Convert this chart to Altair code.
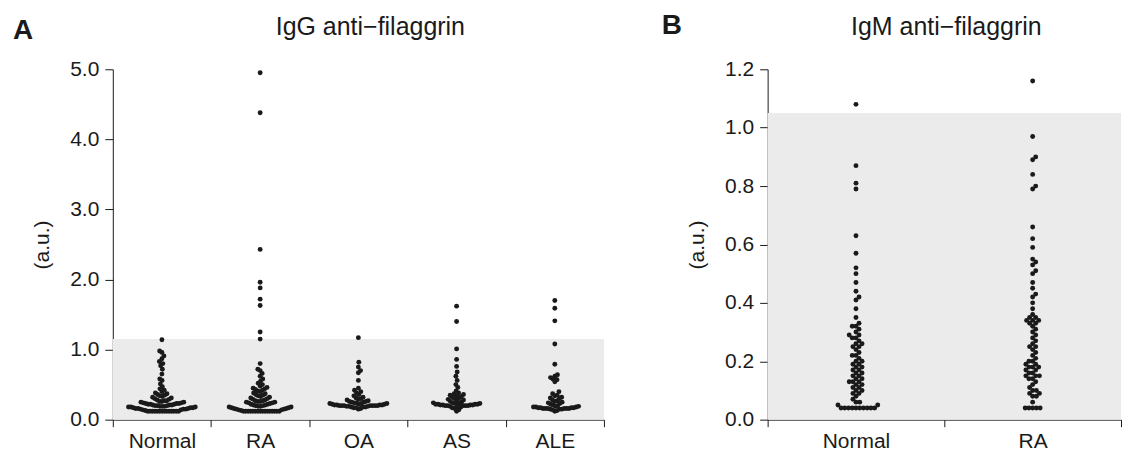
import math
import pandas as pd
import altair as alt

FONT = "Liberation Sans, Arial, sans-serif"
INK = "#1a1a1a"

# ---------------- data ----------------
GROUPS_A = ["Normal", "RA", "OA", "AS", "ALE"]
GROUPS_B = ["Normal", "RA"]
TITLE_A = "IgG anti\u2212filaggrin"
TITLE_B = "IgM anti\u2212filaggrin"
TICKS_A = [0, 1, 2, 3, 4, 5]
TICKS_B = [0, 0.2, 0.4, 0.6, 0.8, 1.0, 1.2]
CUTOFF_A = 1.15
CUTOFF_B = 1.05

NORMAL_A = [0.12, 0.12, 0.12, 0.12, 0.12, 0.12, 0.12, 0.12, 0.12, 0.12, 0.12, 0.12, 0.12, 0.12,
            0.13, 0.14, 0.14, 0.15, 0.15, 0.15, 0.16, 0.16, 0.16, 0.17, 0.17, 0.17, 0.18, 0.18,
            0.18, 0.19, 0.19, 0.19, 0.20, 0.20, 0.20, 0.21, 0.21, 0.21, 0.22, 0.22, 0.22, 0.23,
            0.23, 0.23, 0.24, 0.24, 0.25, 0.25, 0.26, 0.26, 0.27, 0.27, 0.28, 0.29, 0.30, 0.31,
            0.32, 0.33, 0.34, 0.35, 0.36, 0.37, 0.38, 0.40, 0.42, 0.44, 0.47, 0.51, 0.56, 0.58,
            0.65, 0.72, 0.77, 0.80, 0.83, 0.87, 0.91, 0.96, 0.98, 1.14]
RA_A = [0.12, 0.12, 0.12, 0.12, 0.12, 0.12, 0.12, 0.12, 0.12, 0.12, 0.12, 0.12, 0.12, 0.12,
        0.12, 0.12, 0.13, 0.14, 0.14, 0.15, 0.15, 0.16, 0.16, 0.17, 0.17, 0.18, 0.18, 0.19,
        0.19, 0.20, 0.20, 0.21, 0.21, 0.22, 0.22, 0.23, 0.24, 0.24, 0.25, 0.25, 0.26, 0.26,
        0.27, 0.27, 0.28, 0.29, 0.30, 0.31, 0.32, 0.33, 0.34, 0.35, 0.36, 0.37, 0.38, 0.40,
        0.41, 0.42, 0.43, 0.44, 0.45, 0.46, 0.48, 0.50, 0.52, 0.55, 0.58, 0.62, 0.66, 0.70,
        0.72, 0.80, 1.15, 1.25, 1.63, 1.72, 1.88, 1.96, 2.43, 4.38, 4.95]
OA_A = [0.15, 0.16, 0.17, 0.17, 0.18, 0.18, 0.18, 0.19, 0.19, 0.19, 0.20, 0.20, 0.20, 0.20,
        0.20, 0.20, 0.20, 0.21, 0.21, 0.21, 0.21, 0.22, 0.22, 0.22, 0.23, 0.23, 0.23, 0.24,
        0.24, 0.25, 0.25, 0.26, 0.26, 0.27, 0.28, 0.29, 0.30, 0.31, 0.32, 0.34, 0.36, 0.38,
        0.40, 0.42, 0.45, 0.56, 0.67, 0.70, 0.75, 0.82, 1.17]
AS_A = [0.12, 0.14, 0.16, 0.17, 0.18, 0.19, 0.19, 0.20, 0.20, 0.20, 0.20, 0.20, 0.21, 0.21,
        0.21, 0.21, 0.22, 0.22, 0.22, 0.22, 0.23, 0.23, 0.23, 0.24, 0.24, 0.25, 0.26, 0.27,
        0.28, 0.29, 0.30, 0.31, 0.32, 0.33, 0.34, 0.35, 0.36, 0.37, 0.38, 0.41, 0.46, 0.50,
        0.56, 0.62, 0.68, 0.76, 0.86, 1.01, 1.40, 1.62]
ALE_A = [0.12, 0.13, 0.14, 0.15, 0.15, 0.15, 0.16, 0.16, 0.16, 0.16, 0.16, 0.16, 0.17, 0.17,
         0.17, 0.17, 0.18, 0.18, 0.18, 0.19, 0.19, 0.20, 0.21, 0.22, 0.23, 0.24, 0.25, 0.26,
         0.27, 0.28, 0.30, 0.31, 0.32, 0.34, 0.35, 0.37, 0.40, 0.54, 0.57, 0.58, 0.60, 0.62,
         0.64, 0.79, 1.08, 1.41, 1.59, 1.70]

NORMAL_B = [0.04, 0.04, 0.04, 0.04, 0.04, 0.04, 0.04, 0.04, 0.04, 0.04, 0.05, 0.05, 0.06,
            0.06, 0.07, 0.08, 0.09, 0.09, 0.10, 0.10, 0.11, 0.11, 0.12, 0.12, 0.13, 0.13,
            0.13, 0.14, 0.14, 0.15, 0.15, 0.16, 0.16, 0.17, 0.17, 0.18, 0.18, 0.19, 0.19,
            0.20, 0.20, 0.21, 0.22, 0.22, 0.23, 0.24, 0.25, 0.25, 0.26, 0.26, 0.27, 0.28,
            0.28, 0.29, 0.29, 0.30, 0.31, 0.32, 0.32, 0.33, 0.35, 0.38, 0.41, 0.42, 0.44,
            0.47, 0.50, 0.52, 0.57, 0.63, 0.79, 0.81, 0.87, 1.08]
RA_B = [0.04, 0.04, 0.04, 0.04, 0.04, 0.06, 0.08, 0.08, 0.09, 0.09, 0.10, 0.10, 0.11, 0.12,
        0.13, 0.14, 0.14, 0.15, 0.15, 0.15, 0.16, 0.16, 0.17, 0.17, 0.18, 0.18, 0.18, 0.19,
        0.19, 0.20, 0.20, 0.21, 0.22, 0.23, 0.24, 0.25, 0.25, 0.26, 0.27, 0.28, 0.29, 0.30,
        0.31, 0.32, 0.33, 0.33, 0.34, 0.34, 0.34, 0.35, 0.35, 0.36, 0.38, 0.40, 0.42, 0.43,
        0.45, 0.47, 0.50, 0.51, 0.53, 0.54, 0.55, 0.59, 0.62, 0.66, 0.79, 0.80, 0.84, 0.89,
        0.90, 0.97, 1.16]

# ---------------- layout ----------------
PLOT_H = 351
A_W = 492
B_W = 354
DOT_D = 5.0
SQUEEZE_A = 0.48   # dots overlap sideways in the original dot plot
SQUEEZE_B = 0.75
YMAX_A = 5.0
YMAX_B = 1.2


def beeswarm(vals, px_per_unit, d):
    """Greedy beeswarm: horizontal pixel offsets so that dots do not overlap."""
    order = sorted(range(len(vals)), key=lambda i: vals[i])
    placed = []
    offs = [0.0] * len(vals)
    for i in order:
        y = vals[i] * px_per_unit
        near = [(py, px) for py, px in placed if abs(py - y) < d]
        cands = [0.0]
        for py, px in near:
            dx = math.sqrt(d * d - (py - y) ** 2)
            cands += [px + dx, px - dx]
        cands.sort(key=abs)
        for c in cands:
            if all((c - px) ** 2 + (y - py) ** 2 >= d * d - 1e-6 for py, px in near):
                offs[i] = c
                placed.append((y, c))
                break
    return offs


def build(groups, series, ymax, squeeze):
    rows = []
    for g, vals in zip(groups, series):
        offs = beeswarm(vals, PLOT_H / ymax, DOT_D)
        for v, o in zip(vals, offs):
            rows.append({"group": g, "value": v, "offset": o * squeeze})
    return pd.DataFrame(rows)


df_a = build(GROUPS_A, [NORMAL_A, RA_A, OA_A, AS_A, ALE_A], YMAX_A, SQUEEZE_A)
df_b = build(GROUPS_B, [NORMAL_B, RA_B], YMAX_B, SQUEEZE_B)


def panel(df, groups, width, ymax, ticks, cutoff, title, letter, letter_dx, letter_y, title_dx):
    bw = width / len(groups)
    yscale = alt.Scale(domain=[0, ymax], nice=False, zero=True)
    yaxis = alt.Axis(values=ticks, format=".1f", title="(a.u.)", grid=False,
                     tickSize=8, labelPadding=6, labelFontSize=21, titleFontSize=21,
                     labelFont=FONT, titleFont=FONT, titleFontWeight="normal",
                     titleX=-70, titleY=PLOT_H / 2, titleAngle=270,
                     titleAlign="center", titleBaseline="middle")
    shade = alt.Chart(pd.DataFrame({"lo": [0.0], "hi": [cutoff]})).mark_rect(
        color="#ebebeb").encode(
        x=alt.value(0), x2=alt.value(width),
        y=alt.Y("lo:Q", scale=yscale, axis=yaxis), y2="hi:Q")
    pts = alt.Chart(df).mark_circle(size=24, color=INK, opacity=1).encode(
        x=alt.X("group:N", sort=groups, title=None,
                scale=alt.Scale(paddingInner=0, paddingOuter=0),
                axis=alt.Axis(tickBand="extent", labelAngle=0, tickSize=7,
                              labelPadding=4, labelFontSize=21, labelFont=FONT)),
        xOffset=alt.XOffset("offset:Q", scale=alt.Scale(domain=[-bw / 2, bw / 2], range=[0, bw])),
        y=alt.Y("value:Q", scale=yscale, axis=yaxis))
    ttl = alt.Chart(pd.DataFrame({"t": [title]})).mark_text(
        align="center", baseline="alphabetic", fontSize=25, font=FONT, color=INK).encode(
        text="t:N", x=alt.value(width / 2 + title_dx), y=alt.value(-34))
    let = alt.Chart(pd.DataFrame({"t": [letter]})).mark_text(
        align="left", baseline="alphabetic", fontSize=28, fontWeight="bold",
        font=FONT, color=INK).encode(
        text="t:N", x=alt.value(letter_dx), y=alt.value(letter_y))
    return alt.layer(shade, pts, ttl, let).properties(width=width, height=PLOT_H)


chart_a = panel(df_a, GROUPS_A, A_W, YMAX_A, TICKS_A, CUTOFF_A, TITLE_A, "A", -100, -30, 12)
chart_b = panel(df_b, GROUPS_B, B_W, YMAX_B, TICKS_B, CUTOFF_B, TITLE_B, "B", -106, -35, 2)

chart = alt.hconcat(chart_a, chart_b, spacing=57).resolve_scale(
    xOffset="independent"
).properties(
    padding={"left": 5, "top": 4, "right": 0, "bottom": 0}
).configure_view(stroke=None).configure_axis(
    domainColor=INK, tickColor=INK, labelColor=INK, titleColor=INK,
    domainWidth=1, tickWidth=1
)

chart.save("out.html", embed_options={"renderer": "svg", "actions": False})
